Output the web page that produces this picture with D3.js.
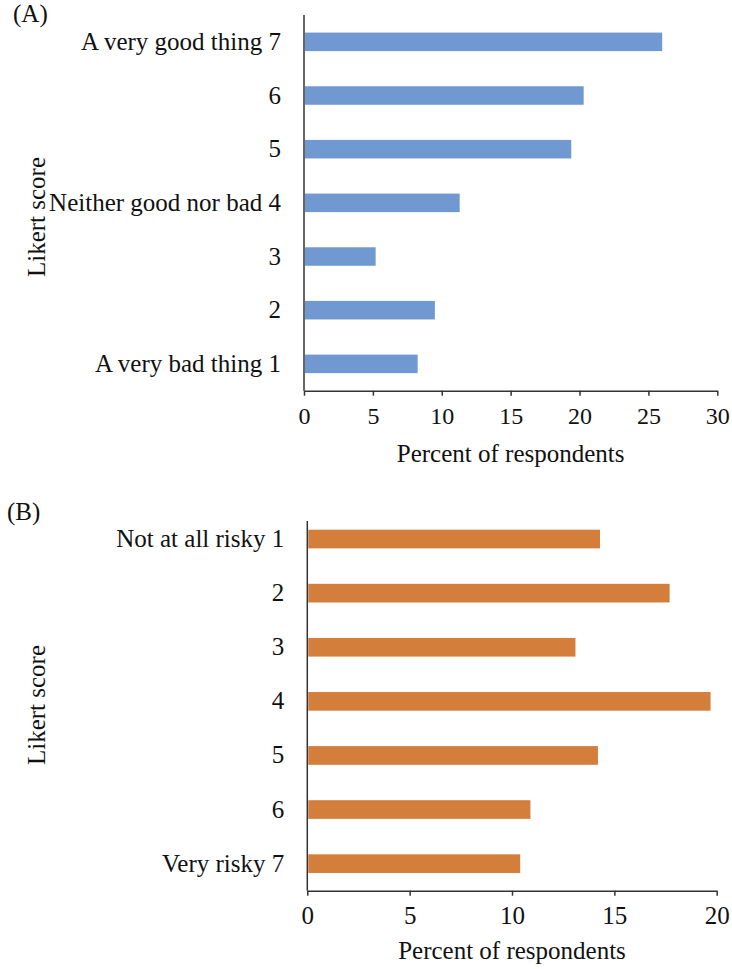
<!DOCTYPE html>
<html>
<head>
<meta charset="utf-8">
<script src="https://cdn.jsdelivr.net/npm/d3@7"></script>
<style>
  html, body { margin: 0; padding: 0; background: #fff; }
  svg text { font-family: "Liberation Serif", "Times New Roman", serif; fill: #111; }
</style>
</head>
<body>
<svg id="chart" width="732" height="969"></svg>
<script>
// Panel A data
const catsA = ["A very good thing 7", "6", "5", "Neither good nor bad 4", "3", "2", "A very bad thing 1"];
const valsA = [26.0, 20.3, 19.4, 11.3, 5.2, 9.5, 8.25];
const ticksA = [0, 5, 10, 15, 20, 25, 30];

// Panel B data
const catsB = ["Not at all risky 1", "2", "3", "4", "5", "6", "Very risky 7"];
const valsB = [14.3, 17.7, 13.1, 19.7, 14.2, 10.9, 10.4];
const ticksB = [0, 5, 10, 15, 20];

const svg = d3.select("#chart");

function panel(cfg) {
  const g = svg.append("g");
  const x = d3.scaleLinear().domain(cfg.xDomain).range([cfg.x0, cfg.x1]);
  const y = d3.scaleBand().domain(cfg.cats).range([cfg.yTop, cfg.yBot])
    .paddingInner(0.655).paddingOuter(0.3275);

  // bars
  g.selectAll("rect.bar").data(cfg.cats.map((c, i) => ({c, v: cfg.vals[i]})))
    .enter().append("rect")
    .attr("x", x(0) + 1)
    .attr("y", d => y(d.c))
    .attr("width", d => x(d.v) - x(0) - 1)
    .attr("height", y.bandwidth())
    .attr("fill", cfg.color);

  // y axis (labels only)
  const ya = g.append("g").attr("transform", `translate(${x(0)},0)`)
    .call(d3.axisLeft(y).tickSize(0).tickPadding(23));
  ya.select(".domain").remove();
  ya.selectAll("text").style("font-size", "25px").attr("fill", "#111");

  // y axis line
  g.append("line").attr("x1", x(0)).attr("x2", x(0))
    .attr("y1", cfg.axisTop).attr("y2", cfg.yBot)
    .attr("stroke", "#333").attr("stroke-width", 1.5);

  // x axis
  const xa = g.append("g").attr("transform", `translate(0,${cfg.yBot})`)
    .call(d3.axisBottom(x).tickValues(cfg.ticks).tickSize(5).tickPadding(11).tickSizeOuter(0));
  xa.select(".domain").attr("stroke", "#333").attr("stroke-width", 1.5);
  xa.selectAll(".tick line").attr("stroke", "#333").attr("stroke-width", 1.5);
  xa.selectAll("text").style("font-size", cfg.tickFont).attr("fill", "#111");

  // x title
  g.append("text").attr("x", (cfg.x0 + cfg.x1) / 2).attr("y", cfg.xTitleY)
    .attr("text-anchor", "middle").style("font-size", "25px")
    .text("Percent of respondents");

  // y title
  g.append("text")
    .attr("transform", `translate(45,${cfg.yTitleY}) rotate(-90)`)
    .attr("text-anchor", "middle").style("font-size", "25px")
    .text("Likert score");

  // panel letter
  g.append("text").attr("x", cfg.letterX).attr("y", cfg.letterY)
    .style("font-size", "25px").text(cfg.letter);
}

panel({
  cats: catsA, vals: valsA, ticks: ticksA, xDomain: [0, 30],
  x0: 304, x1: 717.3, yTop: 15, yBot: 390.7, axisTop: 15,
  color: "#7099d1", tickFont: "24px",
  xTitleY: 462, yTitleY: 217, letter: "(A)", letterX: 13, letterY: 22
});

panel({
  cats: catsB, vals: valsB, ticks: ticksB, xDomain: [0, 20],
  x0: 307.3, x1: 716.7, yTop: 512, yBot: 890.7, axisTop: 521,
  color: "#d47e3b", tickFont: "25px",
  xTitleY: 959, yTitleY: 705, letter: "(B)", letterX: 7, letterY: 520
});
</script>
</body>
</html>
